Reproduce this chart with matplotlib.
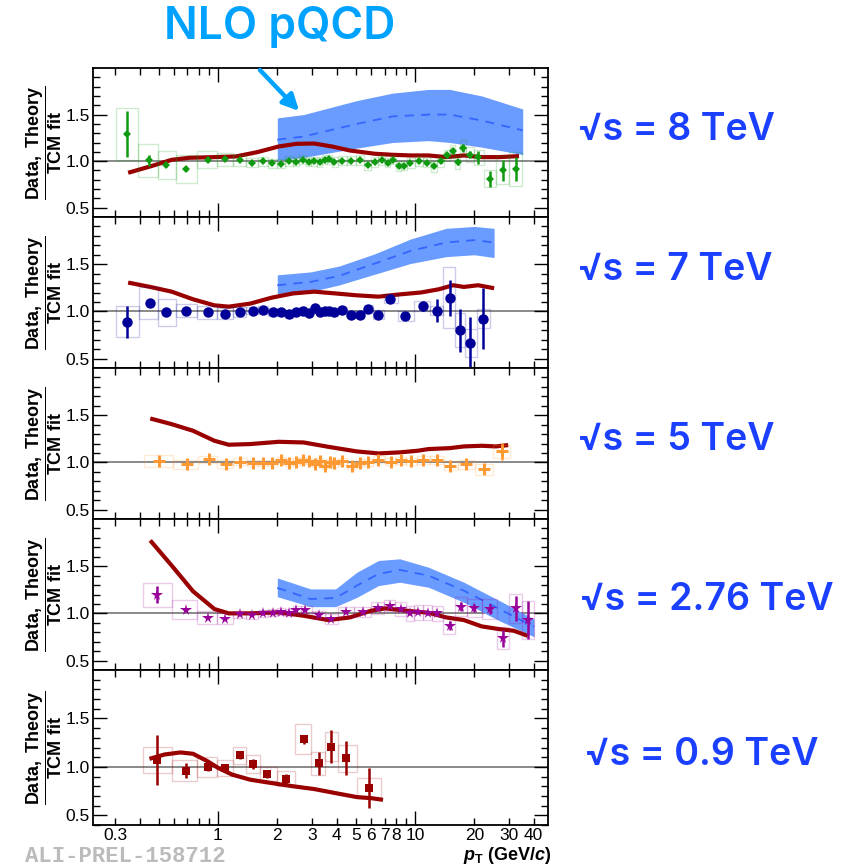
import numpy as np
import matplotlib
matplotlib.use('Agg')
import matplotlib.pyplot as plt
from matplotlib.patches import Rectangle, FancyArrowPatch
from matplotlib.ticker import FixedLocator, FixedFormatter, NullFormatter, FormatStrFormatter

plt.rcParams['font.family'] = ['Liberation Sans', 'DejaVu Sans']
plt.rcParams['mathtext.fontset'] = 'custom'
plt.rcParams['mathtext.rm'] = 'Liberation Sans'
plt.rcParams['mathtext.bf'] = 'Liberation Sans:bold'
plt.rcParams['mathtext.it'] = 'Liberation Sans:italic:bold'

# ---- data: sqrt(s) = 8 TeV ----
pt_8 = [0.346, 0.448, 0.544, 0.687, 0.893, 1.087, 1.294, 1.49, 1.70, 1.89,
        2.09, 2.30, 2.49, 2.69, 2.88, 3.08, 3.29, 3.49, 3.68, 3.90,
        4.26, 4.75, 5.24, 5.75, 6.25, 6.76, 7.26, 7.73, 8.26, 8.75,
        9.47, 10.5, 11.5, 12.5, 13.5, 14.5, 15.6, 16.5, 17.5, 18.9,
        20.9, 23.9, 28.0, 32.4]
r_8 = [1.293, 1.007, 0.96, 0.914, 1.014, 1.018, 1.011, 0.982, 0.996, 0.975,
       0.971, 1.0, 0.993, 1.014, 0.993, 0.996, 0.989, 1.014, 1.02, 0.989,
       1.004, 1.004, 1.011, 0.96, 0.989, 1.011, 0.982, 1.014, 0.946, 0.95,
       0.979, 1.0, 0.982, 0.946, 0.996, 1.061, 1.107, 0.986, 1.143, 1.071,
       1.043, 0.81, 0.9, 0.914]
stat_8 = [0.25, 0.06, 0.025, 0.02, 0.02, 0.015, 0.012, 0.012, 0.012, 0.012,
          0.012, 0.012, 0.012, 0.012, 0.012, 0.012, 0.012, 0.012, 0.012, 0.012,
          0.012, 0.012, 0.012, 0.012, 0.012, 0.012, 0.012, 0.015, 0.015, 0.015,
          0.015, 0.015, 0.015, 0.02, 0.02, 0.025, 0.03, 0.03, 0.04, 0.04,
          0.07, 0.085, 0.11, 0.13]
sys_8 = [0.28, 0.18, 0.15, 0.15, 0.09, 0.07, 0.06, 0.05, 0.05, 0.05,
         0.05, 0.05, 0.05, 0.05, 0.05, 0.05, 0.05, 0.05, 0.05, 0.05,
         0.05, 0.05, 0.05, 0.05, 0.05, 0.05, 0.05, 0.05, 0.05, 0.05,
         0.05, 0.05, 0.05, 0.06, 0.06, 0.06, 0.07, 0.07, 0.08, 0.08,
         0.08, 0.09, 0.15, 0.18]
tcm_x_8 = [0.350, 0.453, 0.582, 0.716, 0.959, 1.23, 1.58, 2.03, 2.50, 3.08, 3.79,
           4.67, 6.25, 7.69, 9.47, 11.7, 14.4, 17.7, 21.8, 26.8, 33.7]
tcm_y_8 = [0.875, 0.943, 1.014, 1.036, 1.043, 1.05, 1.096, 1.157, 1.186, 1.189, 1.157,
           1.114, 1.079, 1.068, 1.061, 1.061, 1.043, 1.061, 1.043, 1.043, 1.054]
nlo_x_8 = [2.0, 2.72, 5.07, 7.69, 11.7, 15.0, 21.8, 35.2]
nlo_hi_8 = [1.464, 1.5, 1.65, 1.73, 1.77, 1.77, 1.70, 1.56]
nlo_lo_8 = [1.007, 1.04, 1.14, 1.20, 1.22, 1.20, 1.15, 1.07]
nlo_mid_8 = [1.23, 1.264, 1.40, 1.48, 1.50, 1.50, 1.436, 1.33]

# ---- data: sqrt(s) = 7 TeV ----
pt_7 = [0.347, 0.450, 0.547, 0.690, 0.894, 1.09, 1.29, 1.50, 1.70, 1.90,
        2.10, 2.30, 2.49, 2.69, 2.89, 3.09, 3.29, 3.49, 3.68, 3.90,
        4.26, 4.75, 5.25, 5.75, 6.45, 7.47, 8.90, 11.0, 12.9, 15.0,
        17.0, 19.1, 22.2]
r_7 = [0.89, 1.085, 0.99, 1.007, 0.99, 0.975, 0.993, 1.007, 1.014, 0.996,
       0.99, 0.975, 0.996, 1.004, 0.979, 1.035, 0.993, 1.0, 1.004, 0.99,
       1.011, 0.965, 0.965, 1.025, 0.965, 1.135, 0.95, 1.057, 1.007, 1.145,
       0.798, 0.663, 0.922]
stat_7 = [0.17, 0.035, 0.015, 0.012, 0.012, 0.012, 0.012, 0.012, 0.012, 0.012,
          0.012, 0.012, 0.012, 0.012, 0.012, 0.012, 0.012, 0.012, 0.012, 0.012,
          0.012, 0.012, 0.012, 0.015, 0.015, 0.02, 0.02, 0.05, 0.12, 0.19,
          0.225, 0.28, 0.325]
sys_7 = [0.165, 0.17, 0.145, 0.07, 0.07, 0.06, 0.05, 0.04, 0.04, 0.04,
         0.04, 0.04, 0.04, 0.04, 0.04, 0.04, 0.04, 0.04, 0.04, 0.04,
         0.04, 0.04, 0.04, 0.04, 0.05, 0.05, 0.05, 0.05, 0.05, 0.32,
         0.18, 0.15, 0.1]
tcm_x_7 = [0.350, 0.453, 0.582, 0.747, 0.959, 1.133, 1.455, 1.87, 2.40, 3.08,
           3.95, 5.07, 6.52, 8.37, 10.7, 13.2, 15.6, 17.7, 20.9, 25.2]
tcm_y_7 = [1.305, 1.259, 1.209, 1.128, 1.064, 1.05, 1.082, 1.145, 1.19, 1.209,
           1.19, 1.17, 1.156, 1.18, 1.20, 1.234, 1.277, 1.259, 1.277, 1.245]
nlo_x_7 = [2.0, 2.95, 4.12, 6.25, 9.47, 14.4, 20.0, 25.2]
nlo_hi_7 = [1.387, 1.418, 1.48, 1.61, 1.766, 1.88, 1.90, 1.88]
nlo_lo_7 = [1.18, 1.209, 1.28, 1.394, 1.507, 1.58, 1.60, 1.57]
nlo_mid_7 = [1.277, 1.312, 1.376, 1.507, 1.64, 1.73, 1.755, 1.73]

# ---- data: sqrt(s) = 5 TeV ----
pt_5 = [0.499, 0.696, 0.901, 1.096, 1.30, 1.50, 1.70, 1.89, 2.10, 2.30,
        2.50, 2.69, 2.89, 3.09, 3.29, 3.49, 3.70, 3.90, 4.26, 4.76,
        5.25, 5.75, 6.51, 7.53, 8.53, 9.55, 11.0, 13.0, 15.1, 18.1,
        22.5, 27.5]
r_5 = [1.014, 0.979, 1.032, 0.982, 1.007, 0.993, 0.993, 0.993, 1.025, 0.996,
       1.007, 1.021, 1.014, 0.986, 1.011, 0.965, 1.0, 0.989, 1.011, 0.961,
       0.996, 1.0, 1.028, 1.007, 1.021, 1.011, 1.025, 1.025, 0.965, 0.979,
       0.926, 1.116]
stat_5 = [0.02, 0.015, 0.015, 0.012, 0.012, 0.012, 0.012, 0.012, 0.012, 0.012,
          0.012, 0.012, 0.012, 0.012, 0.012, 0.012, 0.012, 0.012, 0.012, 0.012,
          0.012, 0.012, 0.012, 0.012, 0.012, 0.015, 0.015, 0.015, 0.02, 0.02,
          0.025, 0.09]
sys_5 = [0.06, 0.05, 0.04, 0.04, 0.035, 0.035, 0.035, 0.035, 0.035, 0.035,
         0.035, 0.035, 0.035, 0.035, 0.035, 0.035, 0.035, 0.035, 0.035, 0.035,
         0.035, 0.035, 0.035, 0.035, 0.035, 0.035, 0.04, 0.04, 0.05, 0.05,
         0.06, 0.07]
tcm_x_5 = [0.453, 0.582, 0.747, 0.959, 1.133, 1.455, 2.03, 2.72, 3.63, 5.07,
           6.52, 8.37, 10.3, 11.7, 15.0, 17.7, 21.8, 25.7, 29.7]
tcm_y_5 = [1.465, 1.405, 1.335, 1.229, 1.187, 1.194, 1.218, 1.211, 1.165, 1.116,
           1.095, 1.106, 1.123, 1.141, 1.151, 1.169, 1.176, 1.169, 1.183]

# ---- data: sqrt(s) = 2.76 TeV ----
pt_276 = [0.493, 0.690, 0.894, 1.09, 1.29, 1.49, 1.70, 1.90, 2.10, 2.30,
          2.49, 2.77, 3.24, 3.76, 4.44, 5.47, 6.46, 7.47, 8.47, 9.47,
          10.4, 11.6, 12.9, 15.0, 17.1, 19.9, 24.0, 28.0, 32.4, 37.4]
r_276 = [1.195, 1.039, 0.954, 0.943, 0.989, 0.979, 1.0, 1.007, 1.018, 1.007,
         1.035, 1.039, 0.982, 0.94, 1.014, 1.014, 1.057, 1.082, 1.046, 1.0,
         1.014, 1.007, 1.0, 0.869, 1.071, 1.057, 1.046, 0.738, 1.053, 0.929]
stat_276 = [0.09, 0.02, 0.015, 0.015, 0.012, 0.012, 0.012, 0.012, 0.012, 0.012,
            0.012, 0.015, 0.015, 0.015, 0.015, 0.015, 0.02, 0.02, 0.02, 0.02,
            0.02, 0.02, 0.025, 0.05, 0.05, 0.04, 0.05, 0.09, 0.13, 0.2]
sys_276 = [0.13, 0.1, 0.07, 0.06, 0.04, 0.04, 0.04, 0.04, 0.04, 0.04,
           0.04, 0.04, 0.045, 0.05, 0.05, 0.05, 0.06, 0.06, 0.07, 0.08,
           0.08, 0.08, 0.08, 0.09, 0.1, 0.1, 0.11, 0.12, 0.15, 0.2]
tcm_x_276 = [0.453, 0.582, 0.747, 0.959, 1.133, 1.455, 2.03, 2.72, 3.63, 4.67,
             5.98, 7.07, 9.07, 11.7, 14.4, 17.7, 21.8, 26.8, 31.7, 37.3]
tcm_y_276 = [1.773, 1.507, 1.234, 1.046, 1.0, 1.0, 1.011, 0.975, 0.929, 0.957,
             1.028, 1.053, 1.028, 1.007, 0.957, 0.929, 0.862, 0.833, 0.816, 0.762]
nlo_x_276 = [2.0, 2.95, 3.95, 5.07, 6.52, 8.37, 11.7, 17.7, 26.8, 40.2]
nlo_hi_276 = [1.376, 1.259, 1.259, 1.436, 1.56, 1.578, 1.489, 1.33, 1.135, 0.94]
nlo_lo_276 = [1.177, 1.071, 1.071, 1.17, 1.294, 1.33, 1.277, 1.117, 0.922, 0.752]
nlo_mid_276 = [1.27, 1.152, 1.163, 1.294, 1.418, 1.461, 1.40, 1.241, 1.046, 0.858]

# ---- data: sqrt(s) = 0.9 TeV ----
pt_09 = [0.493, 0.690, 0.894, 1.09, 1.29, 1.50, 1.78, 2.21, 2.74, 3.24, 3.74, 4.44, 5.84]
r_09 = [1.069, 0.962, 1.0, 0.986, 1.118, 1.031, 0.927, 0.878, 1.285, 1.035, 1.208, 1.087, 0.781]
stat_09 = [0.257, 0.08, 0.04, 0.04, 0.04, 0.05, 0.04, 0.05, 0.045, 0.12, 0.17, 0.175, 0.21]
sys_09 = [0.137, 0.11, 0.1, 0.08, 0.085, 0.09, 0.07, 0.08, 0.155, 0.12, 0.15, 0.14, 0.1]
tcm_x_09 = [0.449, 0.536, 0.646, 0.747, 0.883, 1.0, 1.18, 1.455, 1.87, 2.40,
            3.08, 3.95, 5.07, 6.0, 6.88]
tcm_y_09 = [1.083, 1.128, 1.149, 1.135, 1.059, 0.99, 0.92, 0.868, 0.833, 0.80,
            0.771, 0.729, 0.688, 0.677, 0.66]

energy_labels = ['√s = 8 TeV', '√s = 7 TeV', '√s = 5 TeV', '√s = 2.76 TeV', '√s = 0.9 TeV']

panels = [
    dict(pt=pt_8, r=r_8, stat=stat_8, sys=sys_8, tx=tcm_x_8, ty=tcm_y_8,
         nlo=(nlo_x_8, nlo_lo_8, nlo_hi_8, nlo_mid_8), color='#0f9a0f', marker='D', ms=4.5, mew=0),
    dict(pt=pt_7, r=r_7, stat=stat_7, sys=sys_7, tx=tcm_x_7, ty=tcm_y_7,
         nlo=(nlo_x_7, nlo_lo_7, nlo_hi_7, nlo_mid_7), color='#000099', marker='o', ms=7.5, mew=0),
    dict(pt=pt_5, r=r_5, stat=stat_5, sys=sys_5, tx=tcm_x_5, ty=tcm_y_5,
         nlo=None, color='#ff9933', marker='+', ms=8, mew=2.2),
    dict(pt=pt_276, r=r_276, stat=stat_276, sys=sys_276, tx=tcm_x_276, ty=tcm_y_276,
         nlo=(nlo_x_276, nlo_lo_276, nlo_hi_276, nlo_mid_276), color='#990099', marker='*', ms=8.5, mew=0),
    dict(pt=pt_09, r=r_09, stat=stat_09, sys=sys_09, tx=tcm_x_09, ty=tcm_y_09,
         nlo=None, color='#990000', marker='s', ms=6, mew=0),
]
label_y = [130, 270, 440, 600, 755]
label_x = [578, 578, 578, 580, 585]
title_font = ['Inter', 'DejaVu Sans']

W, H = 865, 868
fig = plt.figure(figsize=(W / 100, H / 100), dpi=100)
gs = fig.add_gridspec(5, 1, left=92.6 / W, right=548 / W, top=1 - 68 / H, bottom=1 - 825 / H,
                      hspace=0, height_ratios=[149, 151, 151, 151, 155])

minor_x = [0.3, 0.4, 0.5, 0.6, 0.7, 0.8, 0.9, 2, 3, 4, 5, 6, 7, 8, 9, 20, 30, 40]
minor_lab = ['0.3', '', '', '', '', '', '', '2', '3', '4', '5', '6', '7', '8', '', '20', '30', '40']

axes = []
for i, p in enumerate(panels):
    ax = fig.add_subplot(gs[i])
    axes.append(ax)
    ax.set_xscale('log')
    ax.set_xlim(0.231, 47.3)
    ax.set_ylim(0.4, 2.0)
    ax.axhline(1.0, color='#808080', lw=1.3, zorder=1)

    if p['nlo'] is not None:
        nx, nlo, nhi, nmid = p['nlo']
        ax.fill_between(nx, nlo, nhi, color='#6a9bff', lw=0, zorder=2)
        ax.plot(nx, nmid, color='#3366ff', lw=1.3, dashes=(5, 4), zorder=2.5)

    ax.plot(p['tx'], p['ty'], color='#990000', lw=3, zorder=3, solid_capstyle='butt')

    # systematic boxes (bin edges halfway in log space between points)
    pt = np.array(p['pt'])
    mids = np.sqrt(pt[1:] * pt[:-1])
    edges = np.concatenate([[pt[0] ** 2 / mids[0]], mids, [pt[-1] ** 2 / mids[-1]]])
    for k in range(len(pt)):
        ax.add_patch(Rectangle((edges[k], p['r'][k] - p['sys'][k]), edges[k + 1] - edges[k],
                               2 * p['sys'][k], fill=False, ec=p['color'], alpha=0.2,
                               lw=1, zorder=3.5))

    ax.errorbar(p['pt'], p['r'], yerr=p['stat'], fmt=p['marker'], color=p['color'],
                ms=p['ms'], mew=p['mew'], elinewidth=1.8, capsize=0, zorder=4)

    ax.xaxis.set_major_locator(FixedLocator([1, 10]))
    ax.xaxis.set_minor_locator(FixedLocator(minor_x))
    ax.yaxis.set_major_locator(FixedLocator([0.5, 1.0, 1.5]))
    ax.yaxis.set_minor_locator(FixedLocator([0.4, 0.6, 0.7, 0.8, 0.9, 1.1, 1.2, 1.3, 1.4, 1.6, 1.7, 1.8, 1.9]))
    ax.yaxis.set_major_formatter(FormatStrFormatter('%.1f'))
    ax.tick_params(which='both', direction='in', top=True, right=True, width=1.0,
                   labelsize=12.5, colors='black')
    ax.tick_params(which='major', length=10, pad=2)
    ax.tick_params(which='minor', length=5, pad=2)
    for s in ax.spines.values():
        s.set_linewidth(1.3)

    if i < 4:
        ax.xaxis.set_major_formatter(NullFormatter())
        ax.xaxis.set_minor_formatter(NullFormatter())
    else:
        ax.xaxis.set_major_formatter(FixedFormatter(['1', '10']))
        ax.xaxis.set_minor_formatter(FixedFormatter(minor_lab))

    ax.set_ylabel(r'$\dfrac{\mathbf{Data,\ Theory}}{\mathbf{TCM\ fit}}$', fontsize=13, labelpad=1)

    fig.text(label_x[i] / W, 1 - label_y[i] / H, energy_labels[i], fontsize=27,
             color='#1a3fff', ha='left', va='center', family=title_font,
             fontweight='semibold')

fig.align_ylabels(axes)

# x axis title
fig.text(552 / W, 1 - 856 / H, r'$\mathit{p}_{\mathbf{T}}$ (GeV/$\mathit{c}$)', fontsize=13,
         fontweight='bold', ha='right', va='center')

# preliminary tag
fig.text(25 / W, 1 - 856 / H, 'ALI-PREL-158712', family='Liberation Mono', fontweight='bold',
         fontsize=16, color='#bbbbbb', ha='left', va='center')

# NLO pQCD annotation
fig.text(280 / W, 1 - 27 / H, 'NLO pQCD', fontsize=32, color='#00a2ff', ha='center', va='center',
         family=title_font, fontweight='semibold')
arrow = FancyArrowPatch((258 / W, 1 - 68 / H), (301 / W, 1 - 113 / H), transform=fig.transFigure,
                        arrowstyle='-|>', mutation_scale=24, color='#00a2ff', lw=3.2)
fig.patches.append(arrow)

fig.savefig('out.png', dpi=100)
